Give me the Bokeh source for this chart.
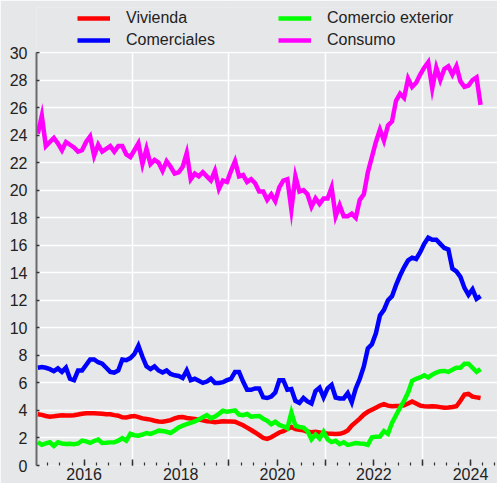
from bokeh.plotting import figure
from bokeh.models import (FixedTicker, Legend, LegendItem, Range1d, CustomJSTickFormatter,
                          BoxAnnotation)
from bokeh.embed import file_html
from bokeh.resources import INLINE

# Monthly series, Jan 2015 .. Mar 2024
start_year = 2015
n_months = 111
months = [start_year + (i + 0.5) / 12 for i in range(n_months)]

vivienda = [
    3.72, 3.68, 3.60, 3.55, 3.58, 3.62, 3.65, 3.63, 3.64, 3.65, 3.70, 3.76,
    3.80, 3.80, 3.80, 3.78, 3.76, 3.73, 3.72, 3.66, 3.62, 3.50, 3.48, 3.56,
    3.60, 3.52, 3.42, 3.38, 3.33, 3.25, 3.20, 3.18, 3.23, 3.30, 3.42, 3.50,
    3.52, 3.45, 3.42, 3.38, 3.33, 3.28, 3.22, 3.20, 3.15, 3.18, 3.22, 3.20,
    3.20, 3.18, 3.05, 2.92, 2.75, 2.58, 2.40, 2.20, 2.00, 1.93, 2.05, 2.22,
    2.40, 2.50, 2.65, 2.80, 2.65, 2.60, 2.55, 2.45, 2.42, 2.45, 2.40, 2.35,
    2.32, 2.30, 2.28, 2.30, 2.38, 2.55, 2.90, 3.15, 3.40, 3.70, 3.90, 4.05,
    4.20, 4.35, 4.45, 4.35, 4.30, 4.32, 4.34, 4.38, 4.50, 4.65, 4.50, 4.35,
    4.30, 4.28, 4.30, 4.28, 4.24, 4.20, 4.22, 4.25, 4.30, 4.70, 5.15, 5.20,
    5.00, 4.95, 4.90,
]

comerciales = [
    7.10, 7.15, 7.10, 7.00, 6.85, 7.05, 6.80, 7.10, 6.30, 6.20, 6.90, 6.90,
    7.30, 7.70, 7.70, 7.50, 7.40, 7.10, 6.80, 6.75, 6.90, 7.70, 7.65, 7.80,
    8.10, 8.70, 7.90, 7.20, 7.00, 7.20, 6.90, 6.75, 6.90, 6.65, 6.55, 6.50,
    6.35, 6.90, 6.20, 6.30, 6.15, 6.00, 6.10, 6.30, 6.00, 6.00, 6.05, 6.20,
    6.30, 6.80, 6.80, 6.10, 5.50, 5.50, 5.60, 5.60, 4.95, 4.90, 5.00, 5.30,
    6.20, 6.20, 5.50, 5.55, 4.70, 4.55, 4.90, 4.65, 4.50, 5.40, 5.65, 4.95,
    5.60, 5.85, 4.94, 4.87, 4.87, 5.26, 4.60, 5.60, 6.30, 7.20, 8.50, 8.80,
    9.60, 10.90, 11.30, 12.00, 12.30, 13.10, 13.80, 14.40, 14.90, 15.10, 15.00, 15.50,
    16.10, 16.55, 16.40, 16.40, 16.10, 15.80, 15.70, 14.30, 14.10, 13.70, 12.90, 12.40,
    12.80, 12.10, 12.30,
]

comercio_exterior = [
    1.69, 1.50, 1.60, 1.69, 1.42, 1.69, 1.60, 1.57, 1.58, 1.55, 1.60, 1.81,
    1.75, 1.64, 1.78, 1.88, 1.64, 1.65, 1.68, 1.69, 1.80, 1.98, 1.81, 2.30,
    2.20, 2.17, 2.25, 2.36, 2.30, 2.40, 2.53, 2.50, 2.45, 2.36, 2.55, 2.77,
    2.90, 3.00, 3.10, 3.20, 3.35, 3.50, 3.66, 3.44, 3.55, 3.75, 3.98, 3.90,
    3.95, 4.00, 3.70, 3.65, 3.74, 3.55, 3.58, 3.60, 3.40, 3.25, 3.00, 3.18,
    2.95, 2.85, 2.70, 3.85, 2.89, 2.80, 2.75, 2.50, 1.90, 2.25, 1.95, 2.45,
    1.90, 1.70, 1.80, 1.55, 1.69, 1.50, 1.55, 1.64, 1.60, 1.58, 1.50, 2.05,
    2.08, 2.10, 2.50, 2.30, 3.10, 3.65, 4.20, 4.70, 5.30, 6.15, 6.30, 6.40,
    6.55, 6.40, 6.60, 6.75, 6.85, 6.87, 6.80, 6.95, 7.10, 7.10, 7.40, 7.40,
    7.10, 6.80, 7.00,
]

consumo = [
    24.1, 25.4, 23.2, 23.5, 23.8, 23.4, 22.9, 23.5, 23.3, 23.1, 22.8, 22.9,
    23.5, 23.9, 22.5, 23.3, 22.8, 23.0, 23.2, 22.8, 23.2, 23.2, 22.6, 22.4,
    22.9, 23.4, 21.9, 23.0, 21.9, 22.2, 22.0, 21.4, 22.1, 21.7, 21.2, 21.3,
    21.7, 22.7, 20.8, 21.2, 21.0, 21.3, 21.0, 20.7, 21.4, 20.1, 20.7, 20.6,
    21.4, 22.1, 21.0, 21.1, 20.6, 20.8, 20.5, 19.9, 19.9, 19.3, 19.7, 19.2,
    20.2, 20.7, 20.8, 18.6, 21.0, 19.9, 20.0, 19.7, 18.8, 19.4, 19.0, 19.4,
    19.4, 20.2, 18.1, 18.9, 18.1, 18.1, 18.3, 18.0, 19.3, 19.7, 21.3, 22.4,
    23.5, 24.4, 23.6, 24.7, 25.0, 26.5, 27.0, 26.7, 28.1, 27.5, 27.8, 28.4,
    28.9, 29.3, 27.4, 28.9, 28.0, 28.8, 29.0, 28.4, 29.0, 27.9, 27.5, 27.6,
    28.0, 28.2, 26.2,
]

series_names = ["Vivienda", "Comerciales", "Comercio exterior", "Consumo"]
series_colors = ["#ff0000", "#0000ff", "#00ff00", "#ff00ff"]

y_ticks = list(range(0, 31, 2))
year_ticks = list(range(2015, 2026))
grid_years = [2017, 2019, 2021, 2023]
y_top = 30

BG = "#e6e7e9"
FONT = "Liberation Sans"
TXT = "#222222"

FRAME_H = 458
PX_PER_UNIT = (FRAME_H - 45) / y_top  # value 30 sits 45px below the frame top

p = figure(frame_width=461, frame_height=FRAME_H,
           x_range=Range1d(2015.015, 2024.559), y_range=Range1d(0, FRAME_H / PX_PER_UNIT),
           output_backend="svg", toolbar_location=None,
           min_border_left=36, min_border_right=0, min_border_top=7, min_border_bottom=18,
           background_fill_color=BG, border_fill_color=BG, outline_line_color=None)

# y axis
p.yaxis.ticker = FixedTicker(ticks=y_ticks)
p.yaxis.bounds = (0, y_top)
p.yaxis.major_tick_in = 3
p.yaxis.major_tick_out = 0
p.yaxis.minor_tick_in = 0
p.yaxis.minor_tick_out = 0
p.yaxis.axis_line_color = "#6a6a6a"
p.yaxis.axis_line_width = 2
p.yaxis.major_tick_line_color = "#333333"
p.yaxis.major_tick_line_width = 1.5
p.yaxis.major_label_text_font = FONT
p.yaxis.major_label_text_font_size = "16px"
p.yaxis.major_label_text_color = TXT
p.yaxis.major_label_standoff = 9

# x axis
p.xaxis.ticker = FixedTicker(ticks=year_ticks,
                             minor_ticks=[y + q / 4 for y in year_ticks for q in range(4)])
p.xaxis.formatter = CustomJSTickFormatter(code="return (Math.round(tick) % 2 == 0) ? Math.round(tick).toString() : '';")
p.xaxis.major_tick_in = 6
p.xaxis.major_tick_out = 0
p.xaxis.minor_tick_in = 3
p.xaxis.minor_tick_out = 0
p.xaxis.axis_line_color = None
p.xaxis.major_tick_line_color = "#333333"
p.xaxis.major_tick_line_width = 1.5
p.xaxis.minor_tick_line_color = "#333333"
p.xaxis.minor_tick_line_width = 1.2
p.xaxis.major_label_text_font = FONT
p.xaxis.major_label_text_font_size = "16px"
p.xaxis.major_label_text_color = TXT
p.xaxis.major_label_standoff = 2

# grids
p.xgrid.ticker = FixedTicker(ticks=grid_years)
p.ygrid.ticker = FixedTicker(ticks=y_ticks)
p.xgrid.grid_line_color = "white"
p.ygrid.grid_line_color = "white"
p.xgrid.grid_line_width = 1.5
p.ygrid.grid_line_width = 1.5

renderers = []
for vals, col in zip([vivienda, comerciales, comercio_exterior, consumo], series_colors):
    r = p.line(months, vals, line_color=col, line_width=4.5, line_join="miter")
    renderers.append(r)

# plain band above the value axis, where the legend sits
p.add_layout(BoxAnnotation(bottom=y_top + 0.06, fill_color=BG, fill_alpha=1.0,
                           line_color=None))

leg_bottom = FRAME_H - 43  # legend (2 rows x 20px + 2px) just below the frame top

def make_legend(idx, x):
    items = [LegendItem(label=series_names[i], renderers=[renderers[i]]) for i in idx]
    return Legend(items=items, location=(x, leg_bottom), orientation="vertical",
                  padding=0, margin=0, spacing=2, glyph_width=33, glyph_height=20,
                  label_height=20, label_standoff=16,
                  label_text_font=FONT, label_text_font_size="16px", label_text_color=TXT,
                  background_fill_alpha=0, border_line_color=None)

p.add_layout(make_legend([0, 1], 41))
p.add_layout(make_legend([2, 3], 242))

open("out.html", "w").write(file_html(p, INLINE))
